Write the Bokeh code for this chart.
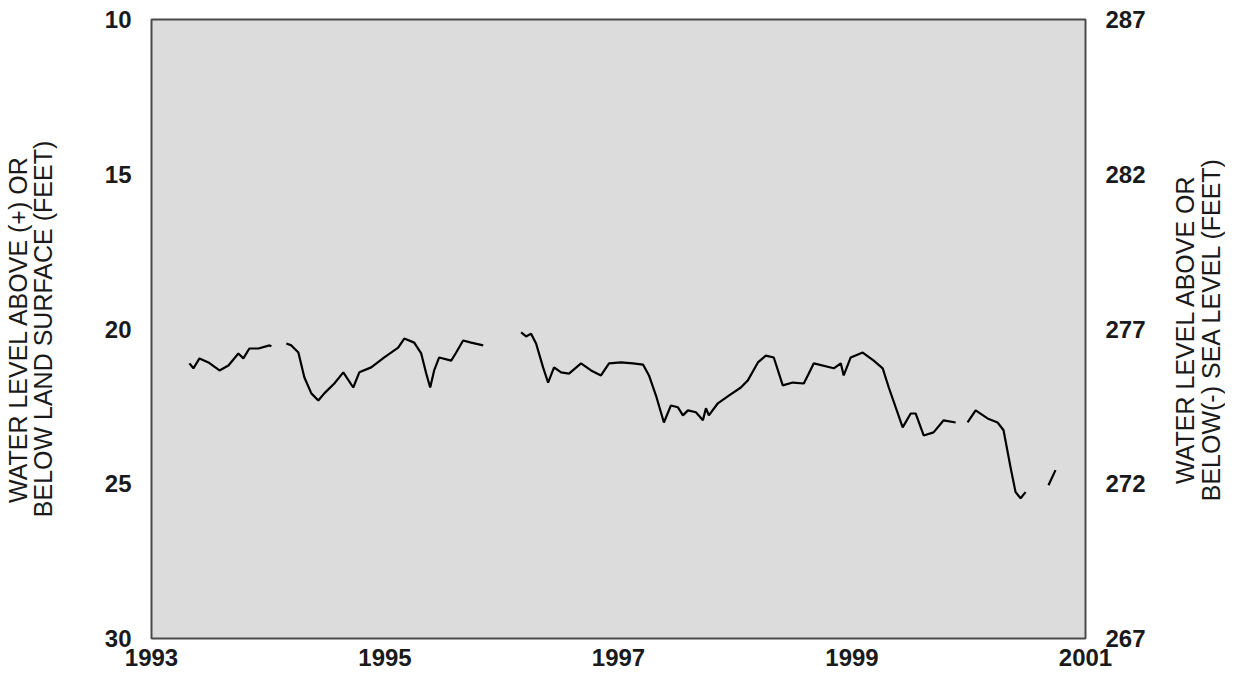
import math
from bokeh.plotting import figure
from bokeh.models import Range1d, LinearAxis, FixedTicker
from bokeh.layouts import row
from bokeh.embed import file_html
from bokeh.resources import INLINE

# --- data ---
seg1_year = [1993.325, 1993.359, 1993.411, 1993.488, 1993.582, 1993.659, 1993.744,
             1993.787, 1993.838, 1993.916, 1994.010, 1994.027]
seg1_depth = [21.11, 21.27, 20.95, 21.08, 21.34, 21.18, 20.79,
              20.95, 20.63, 20.63, 20.53, 20.56]

seg2_year = [1994.155, 1994.198, 1994.258, 1994.309, 1994.369, 1994.429, 1994.480,
             1994.566, 1994.643, 1994.728, 1994.780, 1994.882, 1994.994, 1995.113,
             1995.165, 1995.250, 1995.310, 1995.353, 1995.387, 1995.421, 1995.464,
             1995.567, 1995.610, 1995.669, 1995.738, 1995.841]
seg2_depth = [20.47, 20.53, 20.76, 21.56, 22.08, 22.31, 22.08,
              21.76, 21.40, 21.89, 21.40, 21.24, 20.92, 20.60,
              20.31, 20.44, 20.79, 21.44, 21.89, 21.34, 20.92,
              21.02, 20.76, 20.37, 20.44, 20.53]

seg3_year = [1996.166, 1996.209, 1996.251, 1996.294, 1996.354, 1996.397, 1996.448,
             1996.508, 1996.576, 1996.679, 1996.765, 1996.850, 1996.919, 1997.021,
             1997.124, 1997.210, 1997.261, 1997.321, 1997.389, 1997.449, 1997.509,
             1997.552, 1997.595, 1997.663, 1997.723, 1997.749, 1997.774, 1997.851,
             1997.945, 1998.048, 1998.108, 1998.194, 1998.262, 1998.330, 1998.407,
             1998.493, 1998.587, 1998.630, 1998.673, 1998.844, 1998.904, 1998.929,
             1998.989, 1999.092, 1999.186, 1999.263, 1999.315, 1999.434, 1999.503,
             1999.545, 1999.614, 1999.699, 1999.785, 1999.888]
seg3_depth = [20.11, 20.24, 20.15, 20.47, 21.24, 21.73, 21.24,
              21.40, 21.44, 21.11, 21.34, 21.50, 21.11, 21.08,
              21.11, 21.15, 21.50, 22.15, 23.02, 22.47, 22.53,
              22.79, 22.63, 22.69, 22.95, 22.56, 22.79, 22.40,
              22.15, 21.89, 21.66, 21.08, 20.86, 20.92, 21.82,
              21.73, 21.76, 21.44, 21.11, 21.27, 21.11, 21.50,
              20.92, 20.76, 21.02, 21.27, 21.89, 23.18, 22.73,
              22.73, 23.44, 23.34, 22.95, 23.02]

seg4_year = [1999.990, 2000.059, 2000.161, 2000.247, 2000.298, 2000.358, 2000.401,
             2000.444, 2000.487]
seg4_depth = [23.02, 22.63, 22.89, 23.02, 23.27, 24.47, 25.27, 25.47, 25.27]

seg5_year = [2000.683, 2000.743]
seg5_depth = [25.05, 24.56]

x_ticks = [1993, 1995, 1997, 1999, 2001]
left_ticks = [10, 15, 20, 25, 30]
right_ticks = [267, 272, 277, 282, 287]

left_title = "WATER LEVEL ABOVE (+) OR\nBELOW LAND SURFACE (FEET)"
right_title = "WATER LEVEL ABOVE OR\nBELOW(-) SEA LEVEL (FEET)"

FONT = "Liberation Sans"
INK = "#1a1a1a"

# --- main figure ---
p = figure(width=1150, height=676, output_backend="svg", toolbar_location=None,
           x_range=Range1d(1993, 2001), y_range=Range1d(30, 10),
           min_border_left=150, min_border_right=65, min_border_top=19,
           min_border_bottom=38)
p.background_fill_color = "#dcdcdc"
p.border_fill_color = "white"
p.outline_line_color = "#4a4a4a"
p.outline_line_width = 2
p.xgrid.visible = False
p.ygrid.visible = False

p.extra_y_ranges = {"msl": Range1d(267, 287)}
right_axis = LinearAxis(y_range_name="msl")
p.add_layout(right_axis, "right")

p.multi_line([seg1_year, seg2_year, seg3_year, seg4_year, seg5_year],
             [seg1_depth, seg2_depth, seg3_depth, seg4_depth, seg5_depth],
             line_color="black", line_width=2.2)

p.xaxis.ticker = FixedTicker(ticks=x_ticks)
p.yaxis[0].ticker = FixedTicker(ticks=left_ticks)
right_axis.ticker = FixedTicker(ticks=right_ticks)


def style_axis(ax):
    ax.axis_line_color = None
    ax.major_tick_line_color = None
    ax.minor_tick_line_color = None
    ax.major_tick_in = 0
    ax.major_tick_out = 0
    ax.minor_tick_in = 0
    ax.minor_tick_out = 0
    ax.major_label_text_font = FONT
    ax.major_label_text_font_style = "bold"
    ax.major_label_text_font_size = "24px"
    ax.major_label_text_color = INK
    ax.major_label_standoff = 20
    ax.axis_label_text_font = FONT
    ax.axis_label_text_font_style = "normal"
    ax.axis_label_text_font_size = "25px"
    ax.axis_label_text_color = INK
    ax.axis_label_text_line_height = 0.9


for ax in [p.xaxis[0], p.yaxis[0], right_axis]:
    style_axis(ax)

p.xaxis[0].major_label_standoff = 10

p.yaxis[0].axis_label = left_title
p.yaxis[0].axis_label_standoff = 45

# --- narrow companion figure carrying the right-hand title (reads bottom-to-top) ---
p2 = figure(width=75, height=676, output_backend="svg", toolbar_location=None,
            x_range=Range1d(0, 1), y_range=Range1d(0, 1),
            min_border_left=74, min_border_right=0, min_border_top=19,
            min_border_bottom=38)
p2.outline_line_color = None
p2.background_fill_color = "white"
p2.border_fill_color = "white"
p2.xgrid.visible = False
p2.ygrid.visible = False
p2.xaxis.visible = False
style_axis(p2.yaxis[0])
p2.yaxis[0].ticker = FixedTicker(ticks=[])
p2.yaxis[0].major_label_standoff = 0
p2.yaxis[0].axis_label = right_title
p2.yaxis[0].axis_label_standoff = 0

layout = row(p, p2)
open("out.html", "w").write(file_html(layout, INLINE))
